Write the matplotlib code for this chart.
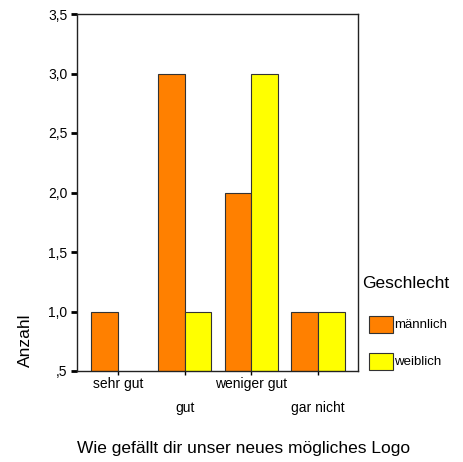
import matplotlib
matplotlib.use("Agg")
import matplotlib.pyplot as plt
import numpy as np
from matplotlib.patches import Rectangle

plt.rcParams['font.family'] = ['Liberation Sans', 'DejaVu Sans']

categories = ["sehr gut", "gut", "weniger gut", "gar nicht"]
maennlich = [1, 3, 2, 1]
weiblich = [0, 1, 3, 1]
yticks = [0.5, 1.0, 1.5, 2.0, 2.5, 3.0, 3.5]
yticklabels = [",5", "1,0", "1,5", "2,0", "2,5", "3,0", "3,5"]

W, H = 463, 462
fig = plt.figure(figsize=(W/100, H/100), dpi=100)
l, r, t, b = 77, 358, 14, 371
ax = fig.add_axes([l/W, 1 - b/H, (r-l)/W, (b-t)/H])

x = np.arange(len(categories))
bw = 0.4
c_m = "#FF8000"
c_f = "#FFFF00"
ax.bar(x - bw/2, maennlich, bw, bottom=0, color=c_m, edgecolor="#333333", linewidth=0.8)
ax.bar(x + bw/2, weiblich, bw, bottom=0, color=c_f, edgecolor="#333333", linewidth=0.8)

ax.set_xlim(-0.615, 3.6)
ax.set_ylim(0.5, 3.5)
ax.set_yticks(yticks)
ax.set_yticklabels(yticklabels, fontsize=10)
ax.set_xticks(x)
ax.set_xticklabels([])
for i, c in enumerate(categories):
    off = 0 if i % 2 == 0 else 24
    ax.annotate(c, xy=(i, 0), xycoords=('data', 'axes fraction'),
                xytext=(0, -6 - off), textcoords='offset pixels',
                ha='center', va='top', fontsize=10)
ax.tick_params(axis='y', direction='out', length=4, width=2, pad=3)
ax.tick_params(axis='x', direction='out', length=3, width=1)
for s in ax.spines.values():
    s.set_linewidth(1.0)
    s.set_color("#222222")

fig.text(25/W, 1 - 340/H, "Anzahl", rotation=90, ha='center', va='center', fontsize=12.5)
fig.text(244/W, 1 - 449/H, "Wie gefällt dir unser neues mögliches Logo", ha='center', va='center', fontsize=12.5)

# legend
fig.text(362/W, 1 - 284/H, "Geschlecht", ha='left', va='center', fontsize=12.5)
for yy, col, lab in [(316, c_m, "männlich"), (353, c_f, "weiblich")]:
    fig.patches.append(Rectangle((369/W, 1 - (yy+17)/H), 24/W, 17/H, transform=fig.transFigure,
                                 facecolor=col, edgecolor="#333333", linewidth=0.8))
    fig.text(394/W, 1 - (yy+9)/H, lab, ha='left', va='center', fontsize=9.5)

fig.savefig("out.png", dpi=100)
